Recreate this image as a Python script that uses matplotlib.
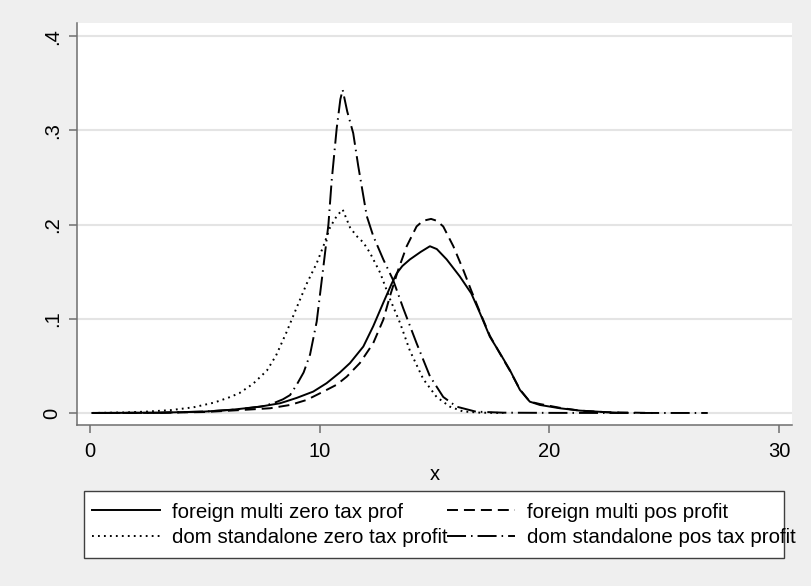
import matplotlib
matplotlib.use("Agg")
import matplotlib.pyplot as plt
from matplotlib.patches import Rectangle

plt.rcParams['font.family'] = ['Liberation Sans', 'DejaVu Sans']
plt.rcParams['lines.scale_dashes'] = False

# ---- data ----
x_fm_zero = [0.1, 3, 5, 6.1, 7.4, 8.27, 8.56, 9.0, 9.72, 10.3, 10.88, 11.32, 11.9, 12.33,
             12.77, 13.13, 13.35, 13.6, 13.93, 14.4, 14.8, 15.1, 15.53, 16.1, 16.6, 16.98,
             17.41, 17.85, 18.28, 18.72, 19.15, 19.59, 20.46, 21.33, 22.5, 23.0]
y_fm_zero = [0.0, 0.0003, 0.0015, 0.0032, 0.0067, 0.0103, 0.0125, 0.016, 0.0227, 0.0316,
             0.043, 0.053, 0.0705, 0.092, 0.117, 0.137, 0.148, 0.156, 0.163, 0.171, 0.177,
             0.174, 0.163, 0.145, 0.127, 0.106, 0.081, 0.0635, 0.0457, 0.0245, 0.012,
             0.0085, 0.005, 0.0025, 0.0008, 0.0003]

x_fm_pos = [0.1, 3, 5, 6.5, 7.84, 8.71, 9.43, 10.16, 10.74, 11.18, 11.75, 12.33, 12.77,
            13.06, 13.42, 13.79, 14.22, 14.5, 14.85, 15.1, 15.38, 15.82, 16.25, 16.6,
            16.98, 17.41, 17.85, 18.28, 18.72, 19.15, 19.59, 20.46, 21.33, 22.5, 24.5]
y_fm_pos = [0.0, 0.0002, 0.001, 0.003, 0.005, 0.0085, 0.0138, 0.0227, 0.030, 0.0386,
            0.053, 0.074, 0.099, 0.124, 0.152, 0.177, 0.198, 0.204, 0.206, 0.204, 0.198,
            0.177, 0.152, 0.130, 0.107, 0.082, 0.063, 0.045, 0.025, 0.012, 0.0095,
            0.0055, 0.0025, 0.0008, 0.0]

x_dom_zero = [0.1, 1.5, 2.5, 3.5, 4.5, 5.4, 6.0, 6.5, 7.1, 7.7, 8.1, 8.56,
              9.0, 9.43, 9.87, 10.16, 10.45, 10.74, 11.0, 11.32, 11.6, 11.9, 12.19,
              12.63, 13.06, 13.5, 13.93, 14.51, 15.09, 15.67, 16.24, 17.0, 18.0]
y_dom_zero = [0.0, 0.0005, 0.0015, 0.003, 0.006, 0.011, 0.016, 0.021, 0.031, 0.045,
              0.061, 0.086, 0.112, 0.137, 0.159, 0.177, 0.197, 0.209, 0.216,
              0.197, 0.188, 0.181, 0.170, 0.149, 0.121, 0.0955, 0.066, 0.036, 0.017,
              0.0067, 0.0016, 0.0003, 0.0]

x_dom_pos = [0.1, 3, 5, 6.5, 7.5, 8.0, 8.4, 8.71, 9.0, 9.3, 9.58, 9.87, 10.16, 10.38,
             10.52, 10.74, 10.9, 11.0, 11.2, 11.46, 11.68, 12.05, 12.33, 12.77, 13.2,
             13.64, 14.22, 14.8, 15.38, 15.96, 16.8, 18, 20, 23, 26.9]
y_dom_pos = [0.0, 0.0002, 0.0015, 0.004, 0.007, 0.0105, 0.0145, 0.019, 0.030, 0.043,
             0.062, 0.097, 0.155, 0.200, 0.246, 0.302, 0.333, 0.343, 0.320, 0.297,
             0.262, 0.209, 0.188, 0.163, 0.141, 0.111, 0.074, 0.039, 0.017, 0.0067,
             0.0014, 0.0003, 0.0001, 0.0, 0.0]

labels = ["foreign multi zero tax prof", "foreign multi pos profit",
          "dom standalone zero tax profit", "dom standalone pos tax profit"]
x_ticks = [0, 10, 20, 30]
y_ticks = [0, 0.1, 0.2, 0.3, 0.4]
y_ticklabels = ["0", ".1", ".2", ".3", ".4"]

# ---- figure ----
W, H = 812, 586
fig = plt.figure(figsize=(W / 100, H / 100), dpi=100, facecolor='#efefef')
ax = fig.add_axes([0.0948, 0.2747, 0.9754 - 0.0948, 0.9608 - 0.2747])
ax.set_facecolor('white')

lw = 1.4
l1, = ax.plot(x_fm_zero, y_fm_zero, color='black', lw=lw, linestyle='-')
l2, = ax.plot(x_fm_pos, y_fm_pos, color='black', lw=lw, linestyle=(0, (7.9, 4.3)))
l3, = ax.plot(x_dom_zero, y_dom_zero, color='black', lw=lw, linestyle=(0, (1.3, 3.0)))
l4, = ax.plot(x_dom_pos, y_dom_pos, color='black', lw=lw,
              linestyle=(0, (13.7, 3.6, 1.1, 3.6)))

ax.set_xlim(-0.57, 30.57)
ax.set_ylim(-0.0128, 0.414)
ax.set_xticks(x_ticks)
ax.set_yticks(y_ticks)
ax.set_yticklabels(y_ticklabels, rotation=90, va='center')
ax.yaxis.grid(True, color='#e4e4e4', lw=1.5)
ax.set_axisbelow(True)

for s in ['top', 'right']:
    ax.spines[s].set_visible(False)
for s in ['left', 'bottom']:
    ax.spines[s].set_color('#6e6e6e')
    ax.spines[s].set_linewidth(1.1)
ax.tick_params(axis='both', colors='#6e6e6e', length=6, width=1.1, labelsize=14.5,
               labelcolor='black')
ax.tick_params(axis='x', pad=6)
ax.tick_params(axis='y', pad=5)
ax.set_xlabel('x', fontsize=14.5, labelpad=3)

# legend box (Stata draws it narrower than its content)
box = Rectangle((84 / W, 1 - 558 / H), 700 / W, 67 / H, transform=fig.transFigure,
                facecolor='white', edgecolor='#404040', lw=1.0, zorder=1)
fig.patches.append(box)

# row-wise order: (fm zero, fm pos) / (dom zero, dom pos)
leg = fig.legend([l1, l3, l2, l4], [labels[0], labels[2], labels[1], labels[3]],
                 ncol=2, loc='center left',
                 bbox_to_anchor=(92 / W, 1 - 525 / H),
                 fontsize=14.8, frameon=False,
                 handlelength=3.3, handletextpad=0.58, columnspacing=0.0,
                 borderpad=0.0, labelspacing=0.33, borderaxespad=0)
leg.set_zorder(5)

fig.savefig('out.png', dpi=100, facecolor=fig.get_facecolor())
